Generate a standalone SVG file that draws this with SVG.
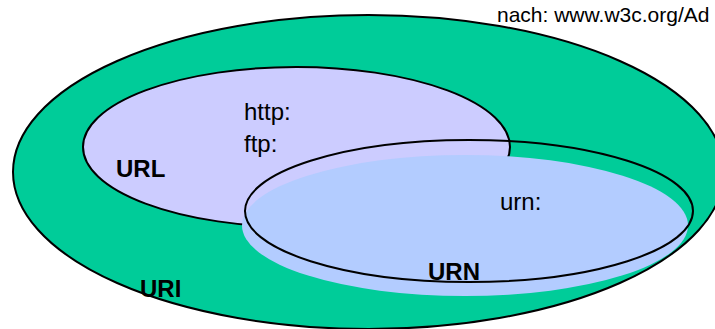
<svg xmlns="http://www.w3.org/2000/svg" width="715" height="329" viewBox="0 0 715 329">
  <style>
    .outline { stroke: #000; stroke-width: 2; }
    .scheme { font-family: "Liberation Sans", Arial, sans-serif; font-size: 24px; fill: #000; }
    .label { font-family: "Liberation Sans", Arial, sans-serif; font-size: 24px; font-weight: bold; fill: #000; }
    .source { font-family: "Liberation Sans", Arial, sans-serif; font-size: 21px; fill: #000; }
  </style>
  <rect width="715" height="329" fill="#fff"/>

  <!-- URI: the outer set -->
  <g id="uri">
    <ellipse class="outline" cx="368.5" cy="172" rx="355.5" ry="157" fill="#00cc99"/>
    <text class="label" x="140" y="297">URI</text>
  </g>

  <!-- URL: locator schemes -->
  <g id="url">
    <ellipse class="outline" cx="296.5" cy="147" rx="213.5" ry="80" fill="#ccccff"/>
    <text class="label" x="116" y="177">URL</text>
    <text class="scheme" x="244" y="120">http:</text>
    <text class="scheme" x="244" y="152">ftp:</text>
  </g>

  <!-- URN: name scheme, filled body slightly offset from its outline -->
  <g id="urn">
    <ellipse cx="465" cy="225.5" rx="223" ry="70.5" fill="#b3ccff"/>
    <ellipse class="outline" cx="469" cy="211" rx="224" ry="71" fill="none"/>
    <text class="scheme" x="500" y="210">urn:</text>
    <text class="label" x="428" y="280">URN</text>
  </g>

  <text class="source" x="497" y="22">nach: www.w3c.org/Ad</text>
</svg>
